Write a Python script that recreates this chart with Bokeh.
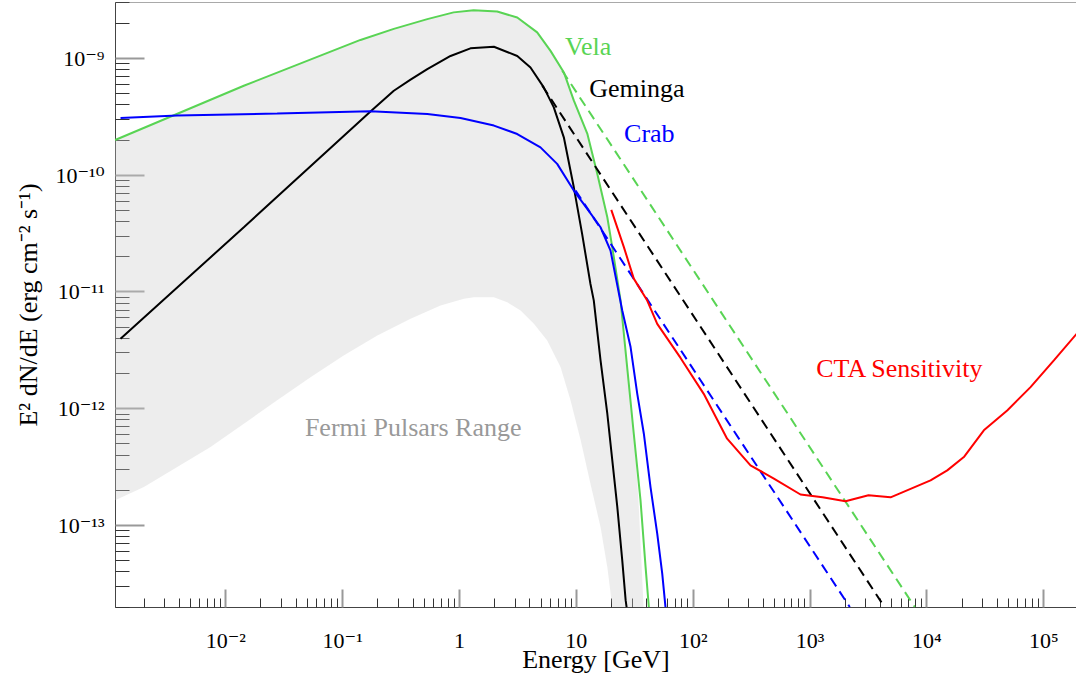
from bokeh.plotting import figure
from bokeh.models import Range1d, FixedTicker, ColumnDataSource, Span
from bokeh.embed import file_html
from bokeh.resources import INLINE
from bokeh.core.properties import value

# ---------------- data (energies in GeV, E^2 dN/dE in erg cm^-2 s^-1) ----------------
vela_E = [1.13e-3, 0.01426, 0.142, 0.274, 0.53, 0.89, 1.32, 2.1, 3.12, 4.62, 6.01, 7.82,
          9.52, 12.4, 15.1, 18.4, 20.3, 23.9, 27.2, 31.0, 35.4, 39.1, 41.7]
vela_F = [2.0e-10, 5.83e-10, 1.44e-9, 1.79e-9, 2.17e-9, 2.48e-9, 2.59e-9, 2.52e-9, 2.24e-9,
          1.67e-9, 1.16e-9, 7.59e-10, 4.35e-10, 2.27e-10, 1.03e-10, 4.36e-11, 2.41e-11,
          8.4e-12, 2.27e-12, 6.1e-13, 1.64e-13, 4.41e-14, 2.0e-14]
vela_pl_E = [7.57, 7870.0]
vela_pl_F = [7.85e-10, 2.0e-14]

geminga_E = [1.256e-3, 0.01426, 0.173, 0.274, 0.381, 0.530, 0.838, 1.24, 1.97, 3.12, 4.05,
             5.26, 6.41, 7.81, 9.51, 11.2, 13.2, 14.1, 16.1, 18.4, 20.3, 22.4, 24.7, 26.4, 26.9]
geminga_F = [3.97e-12, 3.58e-11, 3.51e-10, 5.29e-10, 6.58e-10, 8.11e-10, 1.05e-9, 1.22e-9,
             1.26e-9, 1.05e-9, 8.37e-10, 5.65e-10, 3.81e-10, 2.11e-10, 7.87e-11, 3.14e-11,
             1.17e-11, 8.43e-12, 2.59e-12, 9.05e-13, 3.61e-13, 1.44e-13, 5.02e-14, 2.29e-14,
             2.0e-14]
geminga_pl_E = [5.11, 4335.0]
geminga_pl_F = [5.83e-10, 2.0e-14]

crab_E = [1.256e-3, 3.84e-3, 0.0275, 0.173, 0.53, 1.02, 1.97, 3.12, 4.93, 6.85, 9.51, 12.4,
          16.1, 19.6, 24.7, 29.1, 33.2, 37.8, 43.1, 49.2, 54.3, 57.9]
crab_F = [3.09e-10, 3.24e-10, 3.38e-10, 3.52e-10, 3.34e-10, 3.09e-10, 2.66e-10, 2.25e-10,
          1.73e-10, 1.25e-10, 7.38e-11, 5.14e-11, 3.58e-11, 2.26e-11, 6.93e-12, 3.37e-12,
          1.34e-12, 6.1e-13, 2.13e-13, 8.5e-14, 3.87e-14, 2.0e-14]
crab_pl_E = [9.84, 2188.0]
crab_pl_F = [7.4e-11, 2.0e-14]

cta_E = [19.9, 25.5, 31.0, 40.4, 49.2, 77.9, 123.0, 195.0, 309.0, 490.0, 828.0, 1278.0,
         2010.0, 3162.0, 4885.0, 10740.0, 14930.0, 20700.0, 30700.0, 48650.0, 77000.0,
         1.22e5, 1.91e5]
cta_F = [5.04e-11, 2.42e-11, 1.30e-11, 8.44e-12, 5.33e-12, 2.72e-12, 1.34e-12, 5.53e-13,
         3.27e-13, 2.52e-13, 1.84e-13, 1.74e-13, 1.61e-13, 1.81e-13, 1.74e-13, 2.43e-13,
         2.96e-13, 3.85e-13, 6.52e-13, 9.66e-13, 1.53e-12, 2.59e-12, 4.38e-12]

band_upper_E = [1.13e-3, 0.01426, 0.142, 0.274, 0.53, 0.89, 1.32, 2.1, 3.12, 4.62, 6.01, 7.82,
                9.52, 12.4, 15.1, 18.4, 20.3, 23.9, 27.2, 31.0, 34.0, 37.6]
band_upper_F = [2.0e-10, 5.83e-10, 1.44e-9, 1.79e-9, 2.17e-9, 2.48e-9, 2.59e-9, 2.52e-9,
                2.24e-9, 1.67e-9, 1.16e-9, 7.59e-10, 4.35e-10, 2.27e-10, 1.03e-10, 4.36e-11,
                2.41e-11, 8.4e-12, 2.27e-12, 6.1e-13, 1.64e-13, 2.0e-14]
band_lower_E = [1.13e-3, 1.99e-3, 3.84e-3, 7.40e-3, 0.01426, 0.0275, 0.0531, 0.102, 0.198,
                0.381, 0.688, 1.09, 1.33, 1.97, 2.56, 3.33, 4.33, 5.63, 7.32, 8.91, 10.9,
                13.2, 16.1, 18.4, 20.3]
band_lower_F = [1.64e-13, 2.13e-13, 3.16e-13, 4.69e-13, 7.43e-13, 1.18e-12, 1.86e-12,
                2.86e-12, 4.24e-12, 5.89e-12, 7.66e-12, 8.73e-12, 9.01e-12, 9.01e-12,
                8.17e-12, 6.93e-12, 5.33e-12, 3.84e-12, 2.27e-12, 1.18e-12, 5.35e-13,
                2.28e-13, 9.7e-14, 4.41e-14, 2.0e-14]

label_text = ["Vela", "Geminga", "Crab", "CTA Sensitivity", "Fermi Pulsars Range"]
label_E = [8.0, 12.9, 25.6, 1130.0, 0.0475]
label_F = [1.256e-9, 5.52e-10, 2.27e-10, 2.19e-12, 6.93e-13]
label_color = ["#59d454", "#000000", "#0000ff", "#ff0000", "#999999"]

x_tick_values = [1e-2, 1e-1, 1.0, 10.0, 1e2, 1e3, 1e4, 1e5]
x_tick_labels = ["10⁻²", "10⁻¹", "1", "10", "10²", "10³", "10⁴", "10⁵"]
y_tick_values = [1e-13, 1e-12, 1e-11, 1e-10, 1e-9]
y_tick_labels = ["10⁻¹³", "10⁻¹²", "10⁻¹¹", "10⁻¹⁰", "10⁻⁹"]

x_minor = [m * 10.0 ** k for k in range(-3, 6) for m in range(2, 10)]
y_minor = [m * 10.0 ** k for k in range(-14, -8) for m in range(2, 10)]

# ---------------- figure ----------------
FONT = "Liberation Serif"
TICK_FONT = "Liberation Serif, DejaVu Serif"
GREEN, BLUE, RED = "#59d454", "#0000ff", "#ff0000"

Y_TOP = 10 ** -8.521
p = figure(width=1076, height=681, x_axis_type="log", y_axis_type="log",
           x_range=Range1d(10 ** -2.944, 10 ** 5.280),
           y_range=Range1d(10 ** -13.703, Y_TOP),
           output_backend="svg", toolbar_location=None,
           min_border_left=115, min_border_right=0, min_border_top=2, min_border_bottom=74)
p.grid.visible = False
p.outline_line_color = None
p.background_fill_color = "white"
p.border_fill_color = "white"
p.add_layout(Span(location=Y_TOP, dimension="width", line_color="#555555", line_width=1))

xa = p.xaxis[0]
xa.ticker = FixedTicker(ticks=x_tick_values, minor_ticks=x_minor)
xa.major_label_overrides = dict(zip(x_tick_values, x_tick_labels))
xa.axis_label = "Energy [GeV]"
xa.major_tick_in = 18
xa.major_tick_out = 0
xa.minor_tick_in = 9
xa.minor_tick_out = 0
xa.major_label_standoff = 20
xa.axis_label_standoff = -11

ya = p.yaxis[0]
ya.ticker = FixedTicker(ticks=y_tick_values, minor_ticks=y_minor)
ya.major_label_overrides = dict(zip(y_tick_values, y_tick_labels))
ya.axis_label = "E² dN/dE (erg cm⁻² s⁻¹)"
ya.major_tick_in = 29
ya.major_tick_out = 0
ya.minor_tick_in = 14
ya.minor_tick_out = 0
ya.major_label_standoff = 11
ya.axis_label_standoff = 9

for ax in (xa, ya):
    ax.axis_line_color = "#444444"
    ax.axis_line_width = 1
    ax.major_tick_line_color = "#999999"
    ax.major_tick_line_width = 2
    ax.minor_tick_line_color = "#333333"
    ax.minor_tick_line_width = 1
    ax.major_label_text_font = TICK_FONT
    ax.major_label_text_font_size = "22px"
    ax.major_label_text_color = "black"
    ax.axis_label_text_font = FONT
    ax.axis_label_text_font_size = "26px"
    ax.axis_label_text_font_style = "normal"
    ax.axis_label_text_color = "black"

# band (drawn over ticks, semi transparent, like the reference)
p.patch(band_upper_E + band_lower_E[::-1], band_upper_F + band_lower_F[::-1],
        fill_color="#cccccc", fill_alpha=0.35, line_color=None, level="overlay")

# curves
p.line(vela_E, vela_F, line_color=GREEN, line_width=2, level="overlay")
p.line(vela_pl_E, vela_pl_F, line_color=GREEN, line_width=2, line_dash="10 6", level="overlay")
p.line(geminga_E, geminga_F, line_color="black", line_width=2, level="overlay")
p.line(geminga_pl_E, geminga_pl_F, line_color="black", line_width=2, line_dash="10 6", level="overlay")
p.line(crab_E, crab_F, line_color=BLUE, line_width=2, level="overlay")
p.line(crab_pl_E, crab_pl_F, line_color=BLUE, line_width=2, line_dash="10 6", level="overlay")
p.line(cta_E, cta_F, line_color=RED, line_width=2, level="overlay")

src = ColumnDataSource(dict(x=label_E, y=label_F, text=label_text, color=label_color))
p.text(x="x", y="y", text="text", text_color="color", source=src,
       text_font=value(FONT), text_font_size="26px",
       text_baseline="alphabetic", text_align="left", level="overlay")

open("out.html", "w").write(file_html(p, INLINE))
